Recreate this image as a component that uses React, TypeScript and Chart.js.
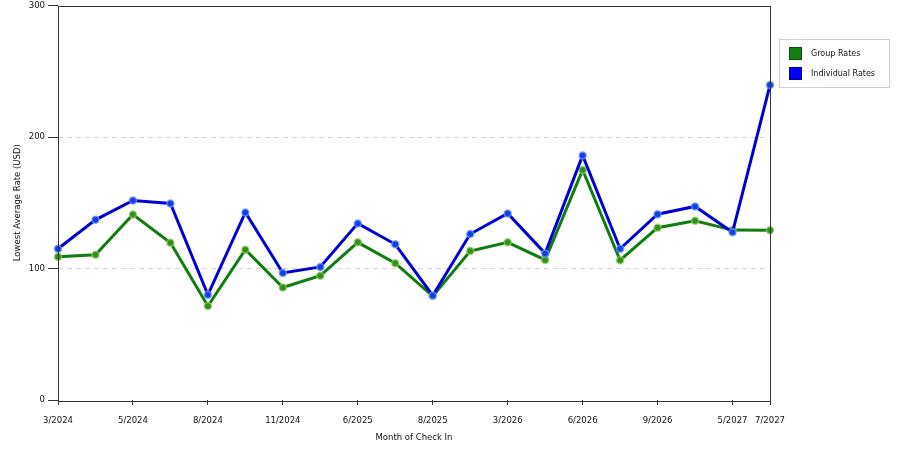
import React, { useEffect, useRef } from "react";
import { Chart, registerables } from "chart.js";

Chart.register(...registerables);

const months = [
  "3/2024", "4/2024", "5/2024", "6/2024", "8/2024", "9/2024", "11/2024", "12/2024",
  "6/2025", "7/2025", "8/2025", "9/2025", "3/2026", "4/2026", "6/2026", "7/2026",
  "9/2026", "10/2026", "5/2027", "7/2027",
];
const groupRates = [
  109, 110.5, 141, 119.6, 71.5, 114.3, 85.6, 94.5, 119.9, 104,
  79, 113.3, 119.9, 106.5, 174.9, 106.3, 131, 136.3, 129.2, 129,
];
const individualRates = [
  115, 137, 151.7, 149.4, 80, 142.6, 96.6, 101.2, 134.3, 118.4,
  79.5, 126.2, 141.9, 111.5, 186, 115, 141.3, 147.2, 127.5, 239.5,
];
const yTicks = [0, 100, 200, 300];

const FONT = "'DejaVu Sans', Verdana, sans-serif";
const GREEN = "#117d11";
const BLUE = "#0000d4";

const showLabel = (i: number) => i % 2 === 0 || i === months.length - 1;

// frame around the plot + boxed legend on the right
const framePlugin = {
  id: "frameAndLegend",
  afterDatasetsDraw(chart: any) {
    const { ctx, chartArea: a } = chart;
    ctx.save();
    ctx.strokeStyle = "#333";
    ctx.lineWidth = 1;
    ctx.strokeRect(Math.round(a.left) + 0.5, Math.round(a.top) + 0.5, Math.round(a.right - a.left), Math.round(a.bottom - a.top));
    ctx.restore();
  },
  afterDraw(chart: any) {
    const { ctx } = chart;
    ctx.save();
    ctx.fillStyle = "#fff";
    ctx.strokeStyle = "#cfcfcf";
    ctx.lineWidth = 1;
    ctx.fillRect(779.5, 39.5, 110, 48);
    ctx.strokeRect(779.5, 39.5, 110, 48);
    const items = [
      { label: "Group Rates", fill: "#118011", stroke: "#0a4f0a" },
      { label: "Individual Rates", fill: "#0000ff", stroke: "#00008a" },
    ];
    items.forEach((it, i) => {
      const y = 47.5 + i * 20;
      ctx.fillStyle = it.fill;
      ctx.fillRect(789.5, y, 12, 12);
      ctx.strokeStyle = it.stroke;
      ctx.strokeRect(789.5, y, 12, 12);
      ctx.fillStyle = "#111";
      ctx.font = `8px ${FONT}`;
      ctx.textBaseline = "middle";
      ctx.textAlign = "left";
      ctx.fillText(it.label, 811, y + 6.5);
    });
    ctx.restore();
  },
};

function RatesChart(): JSX.Element {
  const chartRef = useRef<HTMLCanvasElement | null>(null);
  const chartInstance = useRef<Chart<"line"> | null>(null);

  useEffect(() => {
    if (!chartRef.current) return;
    if (chartInstance.current) chartInstance.current.destroy();
    const ctx = chartRef.current.getContext("2d");
    if (!ctx) return;

    chartInstance.current = new Chart(ctx, {
      type: "line",
      data: {
        labels: months,
        datasets: [
          {
            label: "Group Rates",
            data: groupRates,
            borderColor: GREEN,
            borderWidth: 3,
            pointRadius: 3.5,
            pointBackgroundColor: "#2f8f1f",
            pointBorderColor: "rgba(150,200,90,0.75)",
            pointBorderWidth: 1.5,
            tension: 0,
            order: 1,
            clip: false,
          },
          {
            label: "Individual Rates",
            data: individualRates,
            borderColor: BLUE,
            borderWidth: 3,
            pointRadius: 3.5,
            pointBackgroundColor: "#1540e0",
            pointBorderColor: "rgba(110,150,255,0.75)",
            pointBorderWidth: 1.5,
            tension: 0,
            order: 0,
            clip: false,
          },
        ],
      },
      options: {
        responsive: false,
        animation: false,
        layout: { padding: { top: 2, right: 130, left: 0, bottom: 0 } },
        plugins: { legend: { display: false }, tooltip: { enabled: false } },
        scales: {
          x: {
            offset: false,
            grid: {
              drawOnChartArea: false,
              tickLength: 5,
              tickColor: (c: any) => (showLabel(c.index) ? "#333" : "transparent"),
            },
            border: { display: false },
            ticks: {
              autoSkip: false,
              maxRotation: 0,
              padding: 11,
              color: "#111",
              font: { family: FONT, size: 8.5 },
              callback: (_v: any, i: number) => (showLabel(i) ? months[i] : ""),
            },
            title: {
              display: true,
              text: "Month of Check In",
              color: "#111",
              font: { family: FONT, size: 8.5 },
              padding: { top: 7, bottom: 7 },
            },
            afterFit: (s: any) => {
              s.height = 50;
              s.paddingLeft = 0;
              s.paddingRight = 0;
            },
          },
          y: {
            min: 0,
            max: 300,
            afterBuildTicks: (s: any) => {
              s.ticks = yTicks.map((v) => ({ value: v }));
            },
            grid: {
              color: (c: any) =>
                c.tick && (c.tick.value === 100 || c.tick.value === 200) ? "#d6d6d6" : "transparent",
              tickColor: "#333",
              tickLength: 10,
            },
            border: { display: false, dash: [5, 4] },
            ticks: {
              padding: 3,
              color: "#111",
              font: { family: FONT, size: 8.5 },
            },
            title: {
              display: true,
              text: "Lowest Average Rate (USD)",
              color: "#111",
              font: { family: FONT, size: 8.5 },
              padding: { top: 13, bottom: 13 },
            },
            afterFit: (s: any) => {
              s.width = 58;
              s.paddingTop = 2;
              s.paddingBottom = 0;
            },
          },
        },
      },
      plugins: [framePlugin],
    });

    return () => {
      if (chartInstance.current) {
        chartInstance.current.destroy();
        chartInstance.current = null;
      }
    };
  }, []);

  return (
    <div style={{ width: 900, height: 450, background: "#fff" }}>
      <canvas ref={chartRef} width={900} height={450}></canvas>
    </div>
  );
}

export default function App(): JSX.Element {
  return (
    <div style={{ position: "absolute", left: 0, top: 0 }}>
      <RatesChart />
    </div>
  );
}
